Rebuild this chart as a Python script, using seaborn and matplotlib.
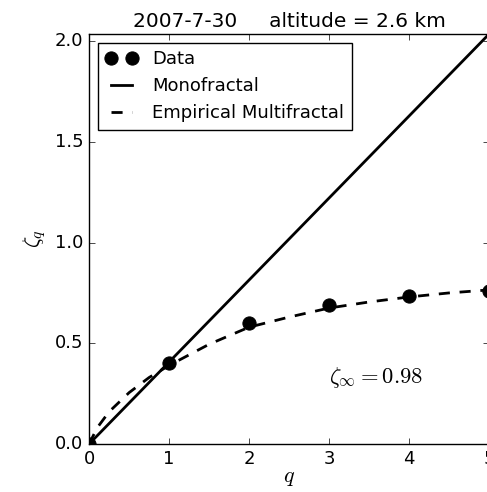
import matplotlib
matplotlib.use("Agg")
import matplotlib.pyplot as plt
import seaborn as sns
import pandas as pd

plt.style.use("classic")

# Data
q_data = [0, 1, 2, 3, 4, 5]
zeta_data = [0.0, 0.40, 0.60, 0.688, 0.733, 0.762]

q_mono = [0, 5]
zeta_mono = [0.0, 2.035]

q_emp = [0, 0.1, 0.25, 0.5, 0.75, 1.0, 1.5, 2.0, 2.5, 3.0, 3.5, 4.0, 4.5, 5.0]
zeta_emp = [0.0, 0.08, 0.16, 0.255, 0.33, 0.39, 0.495, 0.58, 0.63, 0.675, 0.705, 0.73, 0.75, 0.765]

title = "2007-7-30     altitude = 2.6 km"
annot = r"$\zeta_{\infty}=0.98$"

fig = plt.figure(figsize=(4.87, 4.92), dpi=100, facecolor="white")
ax = fig.add_axes([0.183, 0.0976, 0.821, 0.833])
ax.set_facecolor("white")

df_d = pd.DataFrame({"q": q_data, "z": zeta_data})
df_m = pd.DataFrame({"q": q_mono, "z": zeta_mono})
df_e = pd.DataFrame({"q": q_emp, "z": zeta_emp})

sns.lineplot(data=df_d, x="q", y="z", ax=ax, marker="o", linestyle="", color="black",
             markersize=9.5, markeredgecolor="black", label="Data", zorder=3)
sns.lineplot(data=df_m, x="q", y="z", ax=ax, color="black", linewidth=2, label="Monofractal")
sns.lineplot(data=df_e, x="q", y="z", ax=ax, color="black", linewidth=2,
             linestyle=(0, (8, 7)), label="Empirical Multifractal")

ax.set_xlim(0, 5)
ax.set_ylim(0, 2.035)
ax.set_xticks([0, 1, 2, 3, 4, 5])
ax.set_yticks([0.0, 0.5, 1.0, 1.5, 2.0])
ax.tick_params(labelsize=13)
ax.set_xlabel(r"$q$", fontsize=16, labelpad=0)
ax.set_ylabel(r"$\zeta_q$", fontsize=16)
ax.set_title(title, fontsize=14.5, pad=5)
ax.text(3.0, 0.33, annot, fontsize=16.3, va="center", ha="left")

leg = ax.legend(loc="upper left", numpoints=2, fontsize=13, handlelength=1.8)
leg.get_frame().set_linewidth(1.0)

fig.savefig("out.png", dpi=100, facecolor="white")
